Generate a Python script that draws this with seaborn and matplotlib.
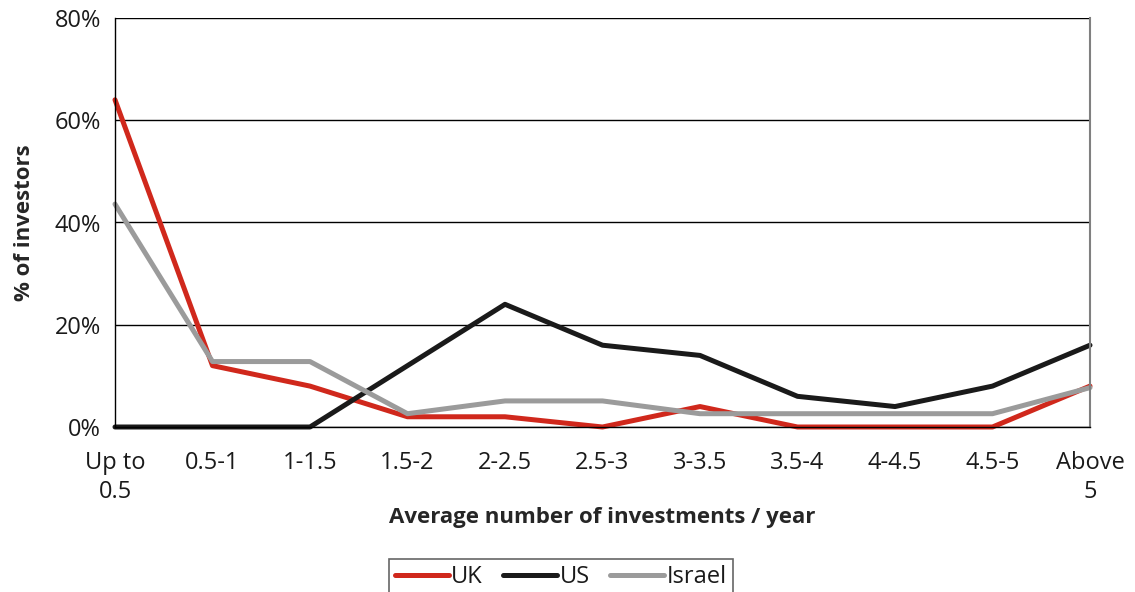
import numpy as np
import pandas as pd
import matplotlib.pyplot as plt
import seaborn as sns

# data (% of investors)
categories = ['Up to\n0.5', '0.5-1', '1-1.5', '1.5-2', '2-2.5', '2.5-3',
              '3-3.5', '3.5-4', '4-4.5', '4.5-5', 'Above\n5']
uk = [64, 12, 8, 2, 2, 0, 4, 0, 0, 0, 8]
us = [0, 0, 0, 12, 24, 16, 14, 6, 4, 8, 16]
israel = [43.6, 12.8, 12.8, 2.6, 5.1, 5.1, 2.6, 2.6, 2.6, 2.6, 7.7]

countries = ['UK', 'US', 'Israel']
palette = {'UK': '#D0281C', 'US': '#1a1a1a', 'Israel': '#9b9b9b'}

df = pd.DataFrame({
    'category': categories * 3,
    'pos': list(range(len(categories))) * 3,
    'value': uk + us + israel,
    'country': ['UK'] * len(uk) + ['US'] * len(us) + ['Israel'] * len(israel),
})

sns.set_style('white')
plt.rcParams['font.family'] = ['Open Sans', 'DejaVu Sans']
plt.rcParams['text.color'] = '#1a1a1a'

fig = plt.figure(figsize=(11.35, 5.92), dpi=100)
ax = fig.add_axes([115 / 1135, 165 / 592, 975 / 1135, 409 / 592])

sns.lineplot(data=df, x='pos', y='value', hue='country', hue_order=countries,
             palette=palette, linewidth=3.6, sort=False, ax=ax, legend=False,
             clip_on=False)

tick_font = 17
ax.set_xlim(0, len(categories) - 1)
ax.set_ylim(0, 80)
ax.set_yticks([0, 20, 40, 60, 80])
ax.set_yticklabels([f'{v}%' for v in [0, 20, 40, 60, 80]], fontsize=tick_font, color='#1a1a1a')
ax.set_xticks(range(len(categories)))
ax.set_xticklabels(categories, fontsize=tick_font, color='#1a1a1a', linespacing=1.3)

ax.grid(axis='y', color='black', linewidth=1.0)
ax.grid(axis='x', visible=False)
ax.set_axisbelow(True)
ax.tick_params(axis='both', direction='out', length=7, width=1, color='black', pad=3)
ax.tick_params(axis='x', pad=10)

for side in ['left', 'bottom']:
    ax.spines[side].set_color('black')
    ax.spines[side].set_linewidth(1.0)
ax.spines['top'].set_visible(False)
ax.spines['right'].set_color('#808080')
ax.spines['right'].set_linewidth(1.5)

ax.set_xlabel('Average number of investments / year', fontsize=16, fontweight='bold', labelpad=2)
ax.set_ylabel('% of investors', fontsize=16, fontweight='bold', labelpad=14)

handles = [plt.Line2D([], [], color=palette[c], linewidth=3.6) for c in countries]
leg = fig.legend(handles, countries, loc='lower center', bbox_to_anchor=(0.494, -0.025),
                 ncol=3, fontsize=tick_font, frameon=True, fancybox=False, edgecolor='#404040',
                 handlelength=2.3, handletextpad=0.1, columnspacing=0.85,
                 borderpad=0.25)
leg.get_frame().set_linewidth(1.2)

fig.savefig('out.png', dpi=100)
